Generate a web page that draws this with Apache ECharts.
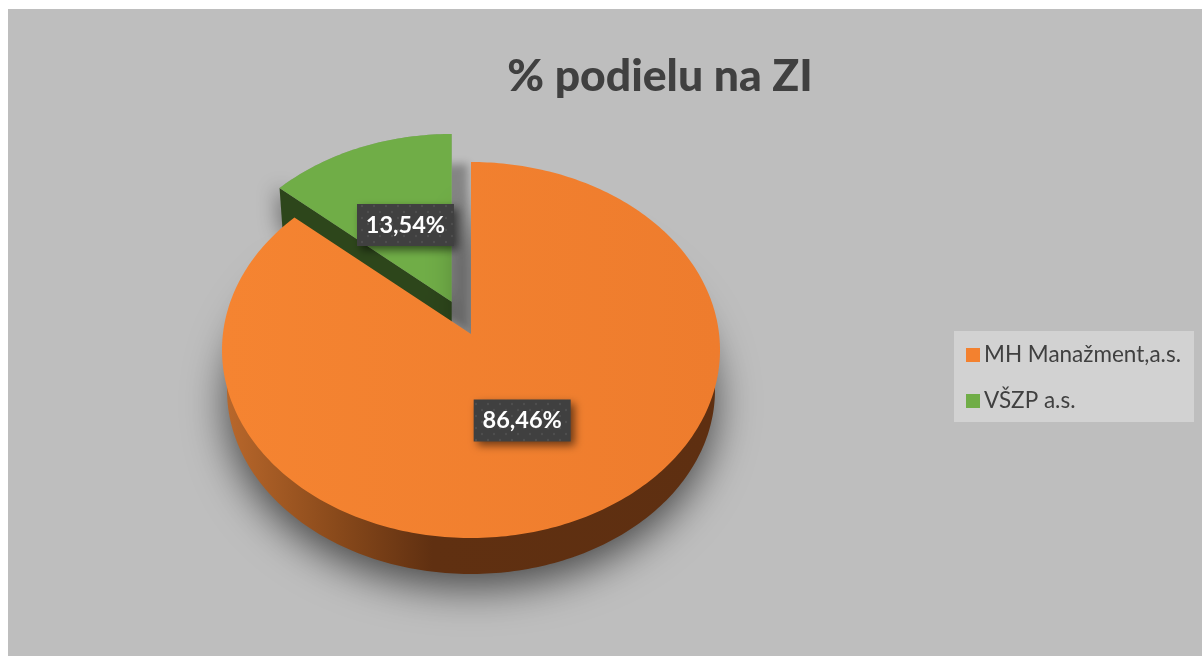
<!DOCTYPE html>
<html><head><meta charset="utf-8">
<style>
html,body{margin:0;padding:0;background:#fff;width:1202px;height:656px;overflow:hidden}
#bg{position:absolute;left:8px;top:9px;right:0;bottom:0;background:#bebebe}
#c{position:absolute;left:0;top:0;width:1202px;height:656px}
</style>
<script src="https://cdn.jsdelivr.net/npm/echarts@6/dist/echarts.min.js"></script>
</head><body><div id="bg"></div><div id="c"></div>
<script>
const categories = ['MH Manažment,a.s.', 'VŠZP a.s.'];
const values = [86.46, 13.54];
const labels = ['86,46%', '13,54%'];
const colors = ['#F3812F', '#70AD47'];
const titleText = '% podielu na ZI';

const total = values.reduce((a, b) => a + b, 0);
const top_ = {cx: 471, cy: 350, rx: 249, ry: 188};
const bot_ = {cx: 471, cy: 390, rx: 244, ry: 184};
const K = 0.918;            // perspective squeeze of the disc
function ang(frac) {        // clockwise fraction from 12 o'clock -> ellipse parameter
  const t = frac * Math.PI * 2;
  const h = t / 2;
  if (Math.abs(Math.cos(h)) < 1e-6) return t;
  let p = 2 * Math.atan(K * Math.tan(h));
  if (p < 0) p += Math.PI * 2;
  return p;
}
function pt(e, p) { return [e.cx + e.rx * Math.sin(p), e.cy - e.ry * Math.cos(p)]; }
function apexOf(e) { return [e.cx, e.cy - e.ry * 0.085]; }
function sector(e, f0, f1, dx, dy, scale) {
  const a = apexOf(e), out = [[a[0] + dx, a[1] + dy]];
  const n = Math.ceil((f1 - f0) * 360);
  for (let i = 0; i <= n; i++) {
    const q = pt(e, ang(f0 + (f1 - f0) * i / n));
    out.push([a[0] + dx + (q[0] - a[0]) * scale, a[1] + dy + (q[1] - a[1]) * scale]);
  }
  return out;
}
const dots = document.createElement('canvas');
dots.width = 12; dots.height = 12;
(function () {
  const g = dots.getContext('2d');
  g.fillStyle = '#404040'; g.fillRect(0, 0, 12, 12);
  g.fillStyle = '#4f4f4f';
  [[2, 2], [8, 8]].forEach(d => { g.beginPath(); g.arc(d[0], d[1], 1.2, 0, 7); g.fill(); });
})();
function labelEls(text, x, y, z) {
  const w = 97, h = 42;
  return [
    {type: 'rect', z2: z, shape: {x: x - w / 2, y: y - h / 2, width: w, height: h},
     style: {fill: {image: dots, repeat: 'repeat'}, shadowBlur: 9, shadowColor: 'rgba(0,0,0,0.55)', shadowOffsetX: 4, shadowOffsetY: 4}},
    {type: 'text', z2: z + 1, x: x, y: y,
     style: {text: text, fill: '#fff', font: 'bold 23.5px Lato', align: 'center', verticalAlign: 'middle'}}
  ];
}
function renderOrange(params, api) {
  const f1 = values[0] / total;
  const g = {type: 'group', children: []};
  const t = sector(top_, 0, f1, 0, 0, 1), b = sector(bot_, 0, f1, 0, 0, 1);
  g.children.push({type: 'polygon', z2: 5, shape: {points: b},
    style: {fill: new echarts.graphic.LinearGradient(0, 0, 1, 0, [
      {offset: 0, color: '#B8672B'}, {offset: 0.22, color: '#8A4A1B'}, {offset: 0.42, color: '#603011'}, {offset: 1, color: '#5E2F11'}]),
      shadowBlur: 42, shadowColor: 'rgba(0,0,0,0.62)', shadowOffsetY: 14}});
  g.children.push({type: 'polygon', z2: 6, shape: {points: t},
    style: {fill: new echarts.graphic.LinearGradient(0, 0, 1, 0, [
      {offset: 0, color: '#F58431'}, {offset: 1, color: '#EE7C2D'}])}});
  const mid = pt(top_, ang(f1 / 2)), a = apexOf(top_), fr = 0.47;
  const lx = a[0] + (mid[0] - a[0]) * fr, ly = a[1] + (mid[1] - a[1]) * fr;
  g.children.push.apply(g.children, labelEls(labels[0], lx - 1, ly, 8));
  return g;
}
function renderGreen(params, api) {
  const f0 = values[0] / total;
  const dx = -19.3, dy = -32.3, sc = 0.975;
  const g = {type: 'group', children: []};
  const t = sector(top_, f0, 1, dx, dy, sc);
  const apex = t[0], tip = t[1];
  // shadow cast to the lower right, visible in the gap beside the orange slice
  g.children.push({type: 'polygon', z2: 1, shape: {points: t},
    style: {fill: '#9f9f9f', shadowBlur: 8, shadowColor: 'rgba(0,0,0,0.3)', shadowOffsetX: 16, shadowOffsetY: 30}});
  // cut face of the slice along its lower edge
  g.children.push({type: 'polygon', z2: 2,
    shape: {points: [apex, tip, [tip[0] + 3, tip[1] + 42], [apex[0], apex[1] + 42]]},
    style: {fill: '#2D461B', shadowBlur: 20, shadowColor: 'rgba(0,0,0,0.4)', shadowOffsetX: -3}});
  g.children.push({type: 'polygon', z2: 3, shape: {points: t}, style: {fill: colors[1]}});
  const mid = t[Math.floor(t.length / 2)], fr = 0.5;
  g.children.push.apply(g.children, labelEls(labels[1], apex[0] + (mid[0] - apex[0]) * fr + 1, apex[1] + (mid[1] - apex[1]) * fr, 8));
  return g;
}
const chart = echarts.init(document.getElementById('c'), null, {renderer: 'canvas'});
chart.setOption({
  animation: false,
  title: {text: titleText, left: 655, top: 49, textAlign: 'center',
    textStyle: {fontFamily: 'Lato', fontWeight: 900, fontSize: 44.5, color: '#404040'}},
  legend: {
    orient: 'vertical', left: 954, top: 331,
    backgroundColor: '#D2D2D2', padding: [12.5, 13, 9.5, 12], itemGap: 23,
    itemWidth: 14, itemHeight: 14, icon: 'rect', data: categories,
    textStyle: {fontFamily: 'Lato', fontSize: 22.5, color: '#404040', padding: [0, 0, 0, -1]}
  },
  series: [
    {type: 'custom', name: categories[0], coordinateSystem: 'none', data: [values[0]],
     renderItem: renderOrange, itemStyle: {color: colors[0]}, silent: true},
    {type: 'custom', name: categories[1], coordinateSystem: 'none', data: [values[1]],
     renderItem: renderGreen, itemStyle: {color: colors[1]}, silent: true}
  ]
});
</script></body></html>
